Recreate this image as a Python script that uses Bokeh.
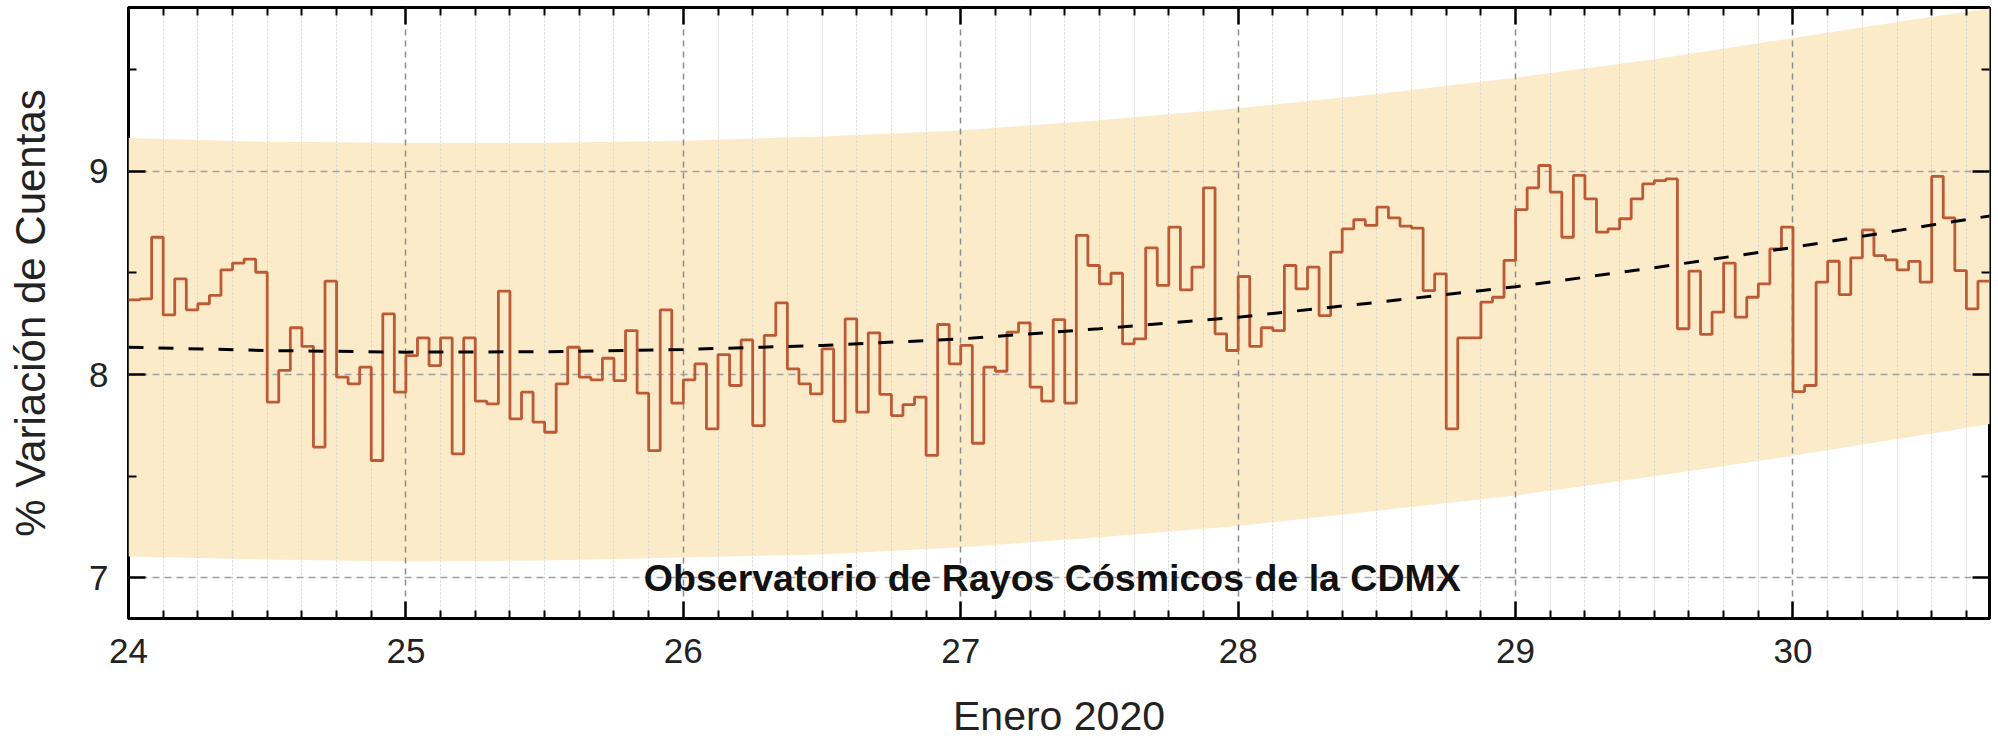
import numpy as np
from bokeh.plotting import figure
from bokeh.models import Range1d, FixedTicker, LinearAxis, Label
from bokeh.embed import file_html
from bokeh.resources import INLINE

# ---- data (hourly values starting 24 Jan 2020 00:00) ----
start_day = 24.0
hours_per_day = 24
counts_pct = [
    8.367, 8.372, 8.675, 8.293, 8.470, 8.318, 8.348, 8.389, 8.515, 8.548, 8.567, 8.503,
    7.864, 8.020, 8.230, 8.138, 7.643, 8.459, 7.987, 7.954, 8.036, 7.577, 8.298, 7.913,
    8.093, 8.180, 8.044, 8.180, 7.610, 8.180, 7.869, 7.856, 8.410, 7.782, 7.913, 7.766,
    7.716, 7.954, 8.134, 7.987, 7.974, 8.080, 7.970, 8.216, 7.908, 7.626, 8.318, 7.859,
    7.974, 8.052, 7.733, 8.098, 7.946, 8.170, 7.749, 8.192, 8.352, 8.028, 7.954, 7.905,
    8.126, 7.770, 8.274, 7.815, 8.205, 7.902, 7.798, 7.852, 7.889, 7.602, 8.246, 8.052,
    8.143, 7.662, 8.036, 8.016, 8.208, 8.254, 7.938, 7.869, 8.270, 7.859, 8.684, 8.536,
    8.446, 8.498, 8.151, 8.175, 8.623, 8.438, 8.725, 8.416, 8.528, 8.918, 8.200, 8.118,
    8.482, 8.138, 8.230, 8.216, 8.536, 8.421, 8.528, 8.290, 8.602, 8.716, 8.761, 8.733,
    8.823, 8.770, 8.730, 8.720, 8.413, 8.495, 7.733, 8.180, 8.180, 8.356, 8.380, 8.561,
    8.811, 8.918, 9.028, 8.897, 8.675, 8.979, 8.864, 8.700, 8.716, 8.766, 8.864, 8.938,
    8.954, 8.962, 8.225, 8.508, 8.197, 8.307, 8.548, 8.282, 8.380, 8.446, 8.618, 8.725,
    7.916, 7.946, 8.454, 8.557, 8.393, 8.574, 8.711, 8.585, 8.564, 8.515, 8.556, 8.454,
    8.974, 8.770, 8.511, 8.323, 8.459,
]

fit_days = [24.0, 24.5, 25.0, 25.5, 26.0, 26.5, 27.0, 27.5, 28.0, 28.5, 29.0, 29.5, 30.0, 30.5, 30.71]
fit_trend = [8.134, 8.118, 8.110, 8.112, 8.123, 8.143, 8.175, 8.225, 8.282, 8.355, 8.432, 8.525, 8.625, 8.735, 8.78]
band_upper = [9.163, 9.145, 9.14, 9.14, 9.15, 9.17, 9.20, 9.25, 9.31, 9.38, 9.46, 9.55, 9.655, 9.76, 9.80]
band_lower = [7.105, 7.09, 7.08, 7.085, 7.10, 7.115, 7.15, 7.20, 7.255, 7.33, 7.405, 7.50, 7.60, 7.71, 7.756]

x_ticks = [24, 25, 26, 27, 28, 29, 30]
y_ticks = [7, 8, 9]

title_text = "Observatorio de Rayos Cósmicos de la CDMX"
x_label = "Enero 2020"
y_label = "% Variación de Cuentas"

# ---- derived positions ----
n = len(counts_pct)
x_steps = start_day + np.arange(n + 1) / hours_per_day
y_steps = counts_pct + [counts_pct[-1]]
x_end = float(x_steps[-1])
y_lo, y_hi = 6.8, 9.805

FONT = "Liberation Sans"

p = figure(width=1992, height=742, output_backend="svg", toolbar_location=None,
           x_range=Range1d(start_day, x_end), y_range=Range1d(y_lo, y_hi),
           min_border_left=128, min_border_right=3, min_border_top=7, min_border_bottom=124,
           x_axis_location=None, y_axis_location=None)
p.background_fill_color = "white"
p.border_fill_color = "white"
p.outline_line_color = "black"
p.outline_line_width = 3

# band
p.varea(x=fit_days, y1=band_lower, y2=band_upper, fill_color="#FCEBC9", level="image")

minor_x = [d + k / 8 for d in range(24, 31) for k in range(1, 8) if d + k / 8 < x_end]
minor_y = [7.5, 8.5, 9.5]

def style_axis(ax, labels=True):
    ax.axis_line_color = None
    ax.major_tick_in = 17
    ax.major_tick_out = 0
    ax.minor_tick_in = 8
    ax.minor_tick_out = 0
    ax.major_tick_line_width = 2.5
    ax.minor_tick_line_width = 2
    ax.major_tick_line_color = "black"
    ax.minor_tick_line_color = "black"
    ax.major_label_text_font = FONT
    ax.axis_label_text_font = FONT
    ax.axis_label_text_font_style = "normal"
    ax.major_label_text_color = "#222222" if labels else None
    ax.axis_label_text_color = "#222222"
    if not labels:
        ax.major_label_text_font_size = "0px"
        ax.major_label_standoff = 0
        ax.axis_label_standoff = 0

bottom = LinearAxis(ticker=FixedTicker(ticks=x_ticks, minor_ticks=minor_x), axis_label=x_label)
style_axis(bottom)
bottom.major_label_text_font_size = "35px"
bottom.major_label_standoff = 20
bottom.axis_label_text_font_size = "41px"
bottom.axis_label_text_line_height = 1.0
bottom.axis_label_standoff = 27
p.add_layout(bottom, "below")

top = LinearAxis(ticker=FixedTicker(ticks=x_ticks, minor_ticks=minor_x))
style_axis(top, labels=False)
p.add_layout(top, "above")

left = LinearAxis(ticker=FixedTicker(ticks=y_ticks, minor_ticks=minor_y), axis_label=y_label)
style_axis(left)
left.major_label_text_font_size = "35px"
left.major_label_standoff = 20
left.axis_label_text_font_size = "42px"
left.axis_label_standoff = 32
p.add_layout(left, "left")

right = LinearAxis(ticker=FixedTicker(ticks=y_ticks, minor_ticks=minor_y))
style_axis(right, labels=False)
p.add_layout(right, "right")

# grids
p.xgrid.ticker = FixedTicker(ticks=x_ticks, minor_ticks=minor_x)
p.ygrid.ticker = FixedTicker(ticks=y_ticks, minor_ticks=minor_y)
p.xgrid.grid_line_color = "#8c8c8c"
p.xgrid.grid_line_dash = "6 5"
p.xgrid.grid_line_width = 1.5
p.xgrid.minor_grid_line_color = "#d6d6d6"
p.xgrid.minor_grid_line_dash = "2 2"
p.xgrid.minor_grid_line_width = 1
p.ygrid.grid_line_color = "#a0a0a0"
p.ygrid.grid_line_dash = "7 5"
p.ygrid.grid_line_width = 1.5
p.ygrid.minor_grid_line_color = None

# data
p.step(x=list(x_steps), y=y_steps, mode="after", line_color="#BC5A36", line_width=2.8)
p.line(x=fit_days, y=fit_trend, line_color="black", line_width=3, line_dash="15 15")

p.add_layout(Label(x=27.33, y=7.0, text=title_text, text_align="center", text_baseline="middle",
                   text_font=FONT, text_font_style="bold", text_font_size="37.5px", text_color="#111111"))

open("out.html", "w").write(file_html(p, INLINE))
